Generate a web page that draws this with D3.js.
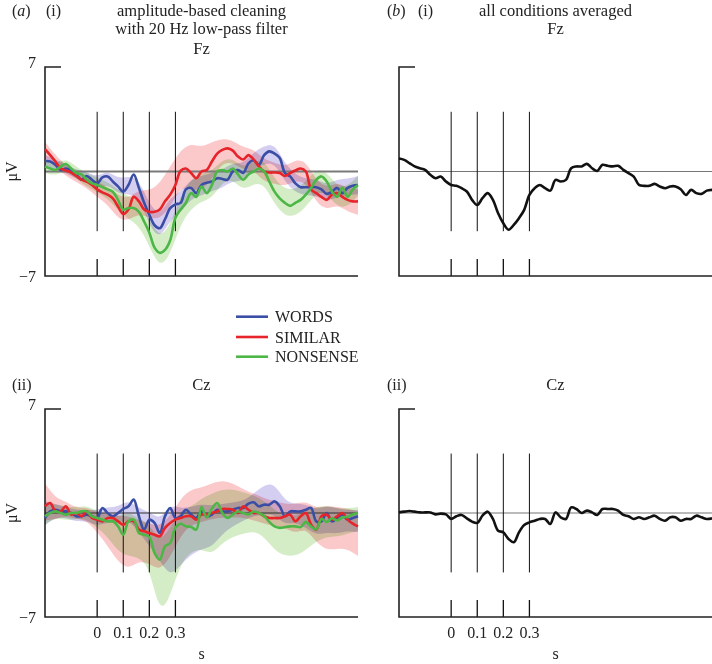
<!DOCTYPE html>
<html>
<head>
<meta charset="utf-8">
<script src="https://cdn.jsdelivr.net/npm/d3@7"></script>
<style>
  html, body { margin: 0; padding: 0; background: #fff; }
  svg { display: block; }
  text { font-family: 'Liberation Serif', 'Times New Roman', serif; fill: #222; }
  .band { mix-blend-mode: multiply; }
</style>
</head>
<body>
<svg id="chart" width="712" height="664"></svg>
<script>
// ---------------- DATA ----------------
// sample times (s), 20 ms steps
const time = [-0.20,-0.18,-0.16,-0.14,-0.12,-0.10,-0.08,-0.06,-0.04,-0.02,
  0.00,0.02,0.04,0.06,0.08,0.10,0.12,0.14,0.16,0.18,0.20,0.22,0.24,0.26,0.28,0.30,
  0.32,0.34,0.36,0.38,0.40,0.42,0.44,0.46,0.48,0.50,0.52,0.54,0.56,0.58,0.60,
  0.62,0.64,0.66,0.68,0.70,0.72,0.74,0.76,0.78,0.80,0.82,0.84,0.86,0.88,0.90,
  0.92,0.94,0.96,0.98,1.00];
// band sample times (s), 40 ms steps
const bandTime = [-0.20,-0.16,-0.12,-0.08,-0.04,0.00,0.04,0.08,0.12,0.16,0.20,0.24,0.28,
  0.32,0.36,0.40,0.44,0.48,0.52,0.56,0.60,0.64,0.68,0.72,0.76,0.80,0.84,0.88,0.92,0.96,1.00];

const conditions = ["WORDS", "SIMILAR", "NONSENSE"];
const markerTimes = [0, 0.1, 0.2, 0.3];
const xTickLabels = ["0", "0.1", "0.2", "0.3"];
const yTickLabels = ["7", "\u22127"];

// Fz (amplitude-based cleaning, 20 Hz low-pass), µV
const fzWords = [0.7,0.67,0.45,0.1,0.2,0.1,-0.2,-0.55,-0.3,-0.55,
  -0.8,-0.4,-0.33,-0.67,-1.0,-1.35,-0.9,-0.2,-1.1,-2.1,-2.9,-3.6,-3.8,-3.2,-2.45,-2.2,
  -2.1,-1.2,-1.1,-1.45,-0.9,-0.75,-0.67,-0.45,-0.5,-0.55,0.0,0.1,-0.1,0.55,0.75,
  0.45,1.1,1.35,1.2,0.9,-0.1,-0.33,-0.8,-1.05,-1.05,-1.05,-1.05,-1.2,-1.5,-1.35,
  -1.1,-1.45,-1.1,-0.95,-0.9];
const fzSimilar = [1.5,1.1,0.67,0.2,0.07,-0.07,-0.3,-0.55,-0.67,-0.9,
  -1.2,-1.4,-1.55,-1.8,-2.35,-2.85,-2.55,-1.7,-2.0,-2.55,-2.7,-2.7,-2.55,-2.0,-1.55,-0.9,
  0.05,0.2,-0.1,-0.45,0.0,0.1,0.67,1.2,1.45,1.55,1.4,1.0,0.8,1.1,0.8,
  0.35,0.0,-0.07,-0.07,-0.1,-0.3,-0.1,0.07,0.2,0.0,-1.2,-1.45,-1.7,-1.9,-1.55,
  -1.45,-1.7,-1.9,-2.0,-2.0];
const fzNonsense = [0.33,0.2,0.1,0.33,0.5,0.2,-0.1,-0.2,-0.55,-0.8,
  -0.9,-1.05,-1.2,-1.35,-1.9,-2.55,-2.45,-2.45,-2.7,-3.35,-4.1,-5.1,-5.45,-5.25,-4.6,-3.1,
  -2.55,-2.1,-1.45,-1.7,-1.0,-1.45,-0.9,0.0,0.1,0.0,0.2,-0.2,-0.55,-0.2,0.0,
  0.2,0.0,-0.67,-1.35,-1.8,-2.1,-2.3,-2.1,-1.9,-1.55,-1.1,-0.55,-0.33,-0.67,-1.35,
  -1.7,-1.1,-1.7,-1.2,-0.9];

// Cz, µV
const czWords = [-0.34,0.11,0.22,0.11,0.11,0.0,-0.22,-0.22,-0.11,-0.22,
  -0.34,0.34,0.0,-0.22,0.0,0.27,0.45,0.9,-0.22,-1.12,-0.45,-0.67,-1.35,-0.22,0.34,-0.34,
  -0.22,0.22,-0.11,-0.34,0.11,-0.22,-0.11,0.22,0.11,0.11,0.22,0.34,0.34,0.63,0.72,
  0.45,0.56,0.56,0.78,0.45,-0.22,0.11,0.11,0.11,0.22,0.34,-0.56,-0.56,0.0,-0.56,
  -0.34,-0.11,-0.45,-0.34,-0.22];
const czSimilar = [0.45,0.67,0.11,0.11,0.45,-0.11,0.0,-0.22,0.11,-0.34,
  -0.45,-0.56,-0.34,-0.34,-0.56,-0.78,-0.56,-0.56,-1.12,-1.23,-1.35,-1.46,-1.57,-1.0,-0.67,-0.45,
  -0.34,-0.22,-0.22,-0.45,-0.11,-0.11,0.0,0.11,0.27,0.27,0.22,0.0,0.45,0.22,0.0,
  0.0,-0.22,-0.34,-0.34,-0.34,-0.22,-0.11,-0.56,-0.22,0.0,-0.78,-1.12,-0.22,-0.11,-0.45,
  -0.22,0.0,-0.45,-0.72,-0.9];
const czNonsense = [-0.22,0.0,0.11,0.0,-0.11,0.0,0.0,0.11,0.11,-0.22,
  -0.34,-0.45,-0.56,-0.56,-0.9,-1.46,-0.56,-0.45,-1.35,-1.46,-1.61,-2.69,-3.14,-2.24,-2.02,-1.0,
  -0.72,-0.9,-0.94,-1.12,0.4,-0.3,0.3,0.67,0.0,-0.34,-0.1,0.1,0.0,-0.1,0.1,
  0.0,-0.2,-0.6,-0.9,-1.0,-0.95,-0.9,-0.9,-0.95,-0.6,-0.9,-1.1,-0.4,-0.6,-0.35,
  -0.5,-0.3,-0.25,-0.1,0.0];

// all conditions averaged, µV
const fzAverage = [0.87,0.78,0.56,0.34,0.22,0.11,-0.22,-0.45,-0.34,-0.67,
  -0.9,-0.96,-1.12,-1.34,-1.9,-2.24,-1.79,-1.45,-1.9,-2.8,-3.47,-3.9,-3.58,-3.13,-2.57,-1.57,
  -1.12,-0.9,-1.12,-1.28,-0.56,-0.67,-0.56,0.22,0.34,0.34,0.51,0.22,0.04,0.45,0.38,
  0.34,0.38,0.11,-0.11,-0.34,-0.9,-0.96,-0.96,-0.83,-1.0,-1.12,-1.0,-1.0,-1.19,-1.57,
  -1.23,-1.45,-1.5,-1.28,-1.23];
const czAverage = [0.04,0.09,0.13,0.09,0.04,0.04,0.04,-0.09,-0.04,-0.09,
  -0.4,-0.22,-0.13,-0.36,-0.58,-0.67,-0.18,0.09,-0.4,-1.19,-1.3,-1.75,-1.97,-1.3,-0.81,-0.63,
  -0.52,-0.4,-0.4,-0.74,0.04,-0.29,-0.4,0.38,0.27,0.0,0.16,0.04,-0.13,0.27,0.27,
  0.27,0.16,-0.13,-0.22,-0.4,-0.29,-0.4,-0.29,-0.18,-0.4,-0.52,-0.29,-0.29,-0.52,-0.4,
  -0.4,-0.18,-0.29,-0.4,-0.36];

// error bands (upper / lower edge, µV) on bandTime
const fzWordsHi = [1.1,0.8,0.5,0.1,0.0,-0.4,0.1,-0.5,-0.3,-0.5,-2.2,-3.0,-1.7,-1.4,-0.5,-0.3,-0.1,0.1,0.6,0.5,1.3,1.7,1.9,0.5,-0.2,-0.5,-0.5,-0.9,-0.5,-0.5,-0.3];
const fzWordsLo = [0.3,0.1,-0.1,-0.5,-0.7,-1.2,-0.8,-1.5,-1.5,-1.7,-3.6,-4.6,-3.2,-2.8,-1.8,-1.6,-1.3,-1.1,-0.6,-0.7,0.2,0.5,0.6,-0.7,-1.4,-1.6,-1.6,-2.0,-1.7,-1.6,-1.5];
const fzSimilarHi = [2.0,1.1,0.4,0.0,-0.3,-0.7,-1.0,-1.6,-1.8,-1.2,-1.3,-0.8,0.33,1.45,1.9,1.6,2.0,2.2,2.1,1.6,1.5,0.8,0.6,0.3,0.8,0.7,-0.6,-1.1,-0.7,-1.1,-1.2];
const fzSimilarLo = [0.9,0.3,-0.3,-0.7,-1.1,-1.7,-2.2,-3.2,-3.3,-2.8,-3.1,-3.2,-2.4,-1.0,-1.2,-1.3,-0.5,0.6,0.6,0.1,0.1,-0.7,-0.8,-1.0,-0.6,-0.7,-2.1,-2.6,-2.2,-2.7,-2.9];
const fzNonsenseHi = [0.7,0.5,0.9,0.3,-0.1,-0.4,-0.7,-1.2,-1.7,-1.9,-3.2,-4.5,-3.6,-1.6,-0.5,-0.1,0.0,0.8,0.9,0.2,0.7,0.8,-0.5,-1.2,-1.2,-0.7,0.2,0.0,-1.0,-1.0,-0.3];
const fzNonsenseLo = [-0.1,-0.3,0.1,-0.5,-1.0,-1.4,-1.8,-2.6,-3.2,-3.6,-5.0,-6.5,-5.6,-3.5,-2.5,-2.0,-1.8,-0.7,-0.5,-1.3,-0.8,-0.8,-2.2,-3.0,-3.0,-2.4,-1.4,-1.4,-2.4,-2.4,-1.6];
const czWordsHi = [0.8,0.6,0.4,0.2,0.2,0.2,0.4,0.4,0.9,0.3,0.1,-0.5,0.6,0.3,0.4,0.6,0.5,0.6,0.7,0.8,1.3,1.9,2.0,0.8,0.6,0.6,0.2,0.5,0.3,0.2,0.2];
const czWordsLo = [-0.8,-0.3,-0.3,-0.6,-0.5,-0.9,-0.6,-0.7,-0.4,-1.3,-2.2,-3.2,-4.3,-3.5,-2.8,-2.4,-2.3,-1.4,-0.9,-0.5,-0.2,-0.1,-0.1,-0.8,-0.6,-1.0,-1.5,-1.3,-1.4,-1.2,-1.3];
const czSimilarHi = [2.0,1.0,0.8,0.3,0.4,0.0,0.0,-0.2,-0.2,-0.5,-0.7,-0.9,-0.2,1.0,1.6,1.7,2.0,2.2,2.0,1.6,1.3,1.0,0.8,0.6,0.6,0.8,0.3,0.5,0.4,0.3,0.1];
const czSimilarLo = [-0.5,-0.4,-0.2,-0.4,-0.5,-1.3,-2.2,-3.3,-3.8,-3.2,-3.4,-3.9,-3.0,-1.5,-0.8,-0.6,-0.4,-0.3,-0.3,-0.3,-0.5,-0.7,-0.9,-1.0,-1.4,-1.0,-2.0,-2.5,-2.4,-2.4,-2.9];
const czNonsenseHi = [0.6,0.6,0.4,0.4,0.5,0.1,-0.1,-0.3,0.1,-0.4,-0.7,-2.0,-1.0,0.2,0.4,1.0,1.3,1.6,1.6,1.4,1.2,0.8,0.2,-0.2,-0.2,0.2,0.4,0.5,0.3,0.3,0.4];
const czNonsenseLo = [-0.8,-0.3,-0.5,-0.4,-0.4,-1.0,-1.6,-2.6,-2.9,-3.0,-3.6,-6.9,-5.6,-3.4,-2.6,-2.4,-2.8,-2.0,-1.6,-1.4,-1.2,-1.6,-2.5,-2.9,-2.9,-2.5,-1.9,-1.6,-1.6,-1.4,-1.2];

// ---------------- STYLE ----------------
const lineColors = { WORDS: "#3a4ea6", SIMILAR: "#e6242a", NONSENSE: "#4cb747" };
const bandColors = { WORDS: "#c9c2ee", SIMILAR: "#fbbcbe", NONSENSE: "#cbe9b8" };

const svg = d3.select("#chart");
const tDomain = [-0.2, 1.0];
const vDomain = [-7, 7];

function zip(ts, vs) { return ts.map((t, i) => ({ t, v: vs[i] })); }
function zipBand(ts, hi, lo) { return ts.map((t, i) => ({ t, hi: hi[i], lo: lo[i] })); }

function drawPanel(opt) {
  const x = d3.scaleLinear().domain(tDomain).range([opt.x0, opt.x1]);
  const y = d3.scaleLinear().domain(vDomain).range([opt.yBottom, opt.yTop]);
  const g = svg.append("g").style("isolation", "isolate");

  // bands
  (opt.bands || []).forEach(b => {
    const area = d3.area().curve(d3.curveBasis)
      .x(d => x(d.t)).y0(d => y(d.lo)).y1(d => y(d.hi));
    g.append("path").attr("class", "band")
      .attr("d", area(zipBand(bandTime, b.hi, b.lo)))
      .attr("fill", bandColors[b.name]).attr("fill-opacity", 0.8).attr("stroke", "none");
  });

  // zero line
  g.append("line").attr("x1", x(tDomain[0])).attr("x2", x(tDomain[1]))
    .attr("y1", y(0)).attr("y2", y(0))
    .attr("stroke", opt.zeroColor).attr("stroke-width", opt.zeroWidth);

  // marker lines and ticks
  markerTimes.forEach(t => {
    g.append("line").attr("x1", x(t)).attr("x2", x(t))
      .attr("y1", y(4)).attr("y2", y(-4))
      .attr("stroke", "#111").attr("stroke-width", 1);
    g.append("line").attr("x1", x(t)).attr("x2", x(t))
      .attr("y1", y(-7) - 17).attr("y2", y(-7))
      .attr("stroke", "#111").attr("stroke-width", 1.3);
  });

  // axes
  g.append("path")
    .attr("d", `M${x(tDomain[0]) + 16},${y(7)} H${x(tDomain[0])} V${y(-7)} H${x(tDomain[1])}`)
    .attr("fill", "none").attr("stroke", "#222").attr("stroke-width", 1.6);

  // lines
  const line = d3.line().curve(d3.curveCatmullRom.alpha(0.5))
    .x(d => x(d.t)).y(d => y(d.v));
  (opt.lines || []).forEach(l => {
    g.append("path").attr("d", line(zip(time, l.values)))
      .attr("fill", "none").attr("stroke", l.color)
      .attr("stroke-width", l.width).attr("stroke-linejoin", "round");
  });

  // y tick labels
  if (opt.yLabels) {
    g.append("text").attr("x", x(tDomain[0]) - 9).attr("y", y(7) + 1)
      .attr("text-anchor", "end").attr("font-size", 16).text(yTickLabels[0]);
    g.append("text").attr("x", x(tDomain[0]) - 9).attr("y", y(-7) + 6)
      .attr("text-anchor", "end").attr("font-size", 16).text(yTickLabels[1]);
    g.append("text").attr("transform", `translate(${x(tDomain[0]) - 28},${y(0)}) rotate(-90)`)
      .attr("text-anchor", "middle").attr("font-size", 16).text("\u03bcV");
  }
  if (opt.xLabels) {
    markerTimes.forEach((t, i) => {
      g.append("text").attr("x", x(t)).attr("y", y(-7) + 21)
        .attr("text-anchor", "middle").attr("font-size", 16).text(xTickLabels[i]);
    });
    g.append("text").attr("x", (x(tDomain[0]) + x(tDomain[1])) / 2).attr("y", y(-7) + 42)
      .attr("text-anchor", "middle").attr("font-size", 16).text("s");
  }
  return { x, y };
}

const left = { x0: 45, x1: 358 };
const right = { x0: 399, x1: 712 };
const topRow = { yTop: 67, yBottom: 276 };
const botRow = { yTop: 409, yBottom: 617 };

// (a)(i) Fz
drawPanel({ ...left, ...topRow, yLabels: true, xLabels: false,
  zeroColor: "#7a7a7a", zeroWidth: 2,
  bands: [
    { name: "WORDS", hi: fzWordsHi, lo: fzWordsLo },
    { name: "SIMILAR", hi: fzSimilarHi, lo: fzSimilarLo },
    { name: "NONSENSE", hi: fzNonsenseHi, lo: fzNonsenseLo }
  ],
  lines: [
    { values: fzWords, color: lineColors.WORDS, width: 2.6 },
    { values: fzSimilar, color: lineColors.SIMILAR, width: 2.6 },
    { values: fzNonsense, color: lineColors.NONSENSE, width: 2.6 }
  ]
});
// (a)(ii) Cz
drawPanel({ ...left, ...botRow, yLabels: true, xLabels: true,
  zeroColor: "#333", zeroWidth: 1.2,
  bands: [
    { name: "WORDS", hi: czWordsHi, lo: czWordsLo },
    { name: "SIMILAR", hi: czSimilarHi, lo: czSimilarLo },
    { name: "NONSENSE", hi: czNonsenseHi, lo: czNonsenseLo }
  ],
  lines: [
    { values: czWords, color: lineColors.WORDS, width: 2.6 },
    { values: czSimilar, color: lineColors.SIMILAR, width: 2.6 },
    { values: czNonsense, color: lineColors.NONSENSE, width: 2.6 }
  ]
});
// (b)(i) Fz averaged
drawPanel({ ...right, ...topRow, yLabels: false, xLabels: false,
  zeroColor: "#777", zeroWidth: 1.2,
  lines: [{ values: fzAverage, color: "#111", width: 2.6 }]
});
// (b)(ii) Cz averaged
drawPanel({ ...right, ...botRow, yLabels: false, xLabels: true,
  zeroColor: "#777", zeroWidth: 1.2,
  lines: [{ values: czAverage, color: "#111", width: 2.6 }]
});

// ---------------- TITLES ----------------
function txt(x, y, anchor, size) {
  return svg.append("text").attr("x", x).attr("y", y)
    .attr("text-anchor", anchor || "start").attr("font-size", size || 16);
}
const la = txt(12, 16, "start", 16);
la.append("tspan").text("(");
la.append("tspan").attr("font-style", "italic").text("a");
la.append("tspan").text(")");
txt(46, 16, "start", 16).text("(i)");
txt(201.5, 16, "middle", 16.5).text("amplitude-based cleaning");
txt(201.5, 33.5, "middle", 16.5).text("with 20 Hz low-pass filter");
txt(201.5, 54, "middle", 16.5).text("Fz");

const lb = txt(387, 16, "start", 16);
lb.append("tspan").text("(");
lb.append("tspan").attr("font-style", "italic").text("b");
lb.append("tspan").text(")");
txt(418, 16, "start", 16).text("(i)");
txt(555.5, 16, "middle", 16.5).text("all conditions averaged");
txt(555.5, 34, "middle", 16.5).text("Fz");

txt(12, 390, "start", 16).text("(ii)");
txt(201.5, 390, "middle", 16.5).text("Cz");
txt(387, 390, "start", 16).text("(ii)");
txt(555.5, 390, "middle", 16.5).text("Cz");

// ---------------- LEGEND ----------------
const legendY = [316.7, 337, 356.7];
conditions.forEach((c, i) => {
  svg.append("line").attr("x1", 236).attr("x2", 268)
    .attr("y1", legendY[i]).attr("y2", legendY[i])
    .attr("stroke", lineColors[c]).attr("stroke-width", 2.6);
  svg.append("text").attr("x", 275).attr("y", legendY[i] + 5.5)
    .attr("font-size", 16).text(c);
});
</script>
</body>
</html>
